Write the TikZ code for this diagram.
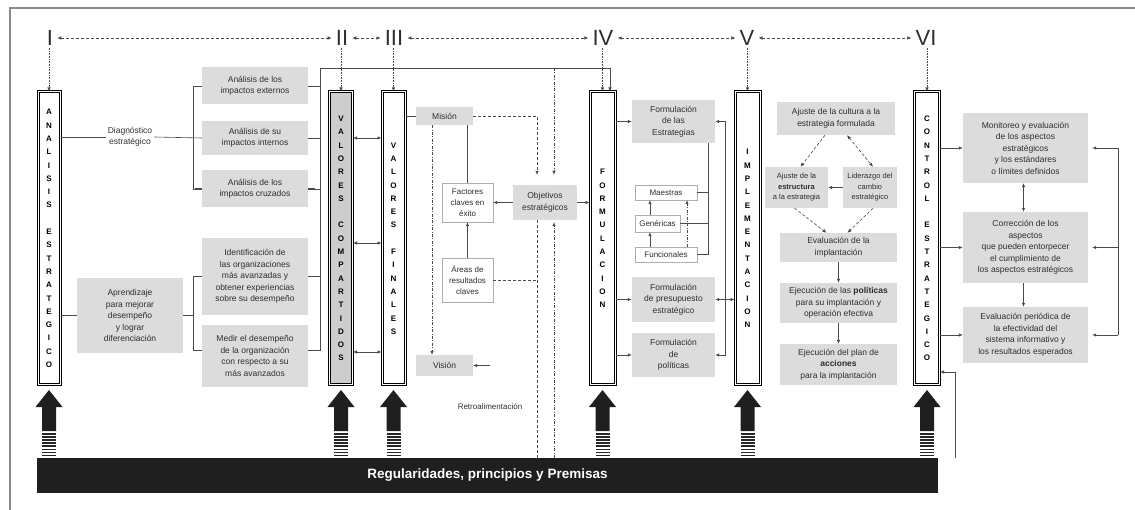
\documentclass[tikz,border=0pt]{standalone}
\usepackage{fontspec}
\setmainfont{Liberation Sans}
\usetikzlibrary{arrows.meta}
\definecolor{txt}{HTML}{2E2E2E}
\definecolor{ln}{HTML}{4A4A4A}
\definecolor{boxg}{HTML}{DCDCDC}
\definecolor{colg}{HTML}{CDCDCD}
\definecolor{frmc}{HTML}{8A8A8A}
\tikzset{
  every node/.style={text=txt},
  >={Latex[length=4pt,width=3.5pt]},
  gbox/.style={fill=boxg, align=center, inner sep=1pt, font=\fontsize{8.5}{11.5}\selectfont},
  wbox/.style={fill=white, draw=ln!45, line width=0.4pt, align=center, inner sep=1pt, font=\fontsize{8}{11}\selectfont},
  colbox/.style={draw=black, line width=1pt, double=white, double distance=1pt, align=center, inner sep=0pt, minimum height=293, text=black, font=\fontsize{8}{13.3}\selectfont\bfseries},
  numeral/.style={font=\fontsize{22}{22}\selectfont, inner sep=2pt},
  conn/.style={draw=ln, line width=0.6pt},
  arr/.style={conn, ->},
  darr/.style={conn, <->},
  dsh/.style={conn, dash pattern=on 3pt off 2pt},
  ddot/.style={conn, dash pattern=on 3pt off 1.5pt on 0.8pt off 1.5pt},
  dots/.style={conn, densely dotted, ->},
}
\begin{document}
\begin{tikzpicture}[x=1pt,y=-1pt]
\useasboundingbox (0,0) rectangle (1135,510);
\draw[frmc, line width=1.2pt] (10,510) -- (10,8) -- (1135,8);

% numerals
\node[numeral] (n1) at (50,38) {I};
\node[numeral] (n2) at (342,38) {II};
\node[numeral] (n3) at (394,38) {III};
\node[numeral] (n4) at (603,38) {IV};
\node[numeral] (n5) at (747,38) {V};
\node[numeral] (n6) at (926,38) {VI};
\foreach \a/\b in {n1/n2,n2/n3,n3/n4,n4/n5,n5/n6}
  \draw[dsh, <->, shorten <=2pt, shorten >=2pt] (\a.east) -- (\b.west);

% columns
\node[colbox, minimum width=22] (c1) at (49,238.5) {A\\N\\A\\L\\I\\S\\I\\S\\\mbox{}\\E\\S\\T\\R\\A\\T\\E\\G\\I\\C\\O};
\node[colbox, minimum width=23, fill=colg] (c2) at (341,238.5) {V\\A\\L\\O\\R\\E\\S\\\mbox{}\\C\\O\\M\\P\\A\\R\\T\\I\\D\\O\\S};
\node[colbox, minimum width=23] (c3) at (393.5,238.5) {V\\A\\L\\O\\R\\E\\S\\\mbox{}\\F\\I\\N\\A\\L\\E\\S};
\node[colbox, minimum width=25] (c4) at (602.5,238.5) {F\\O\\R\\M\\U\\L\\A\\C\\I\\O\\N};
\node[colbox, minimum width=25] (c5) at (747.5,238.5) {I\\M\\P\\L\\E\\M\\E\\N\\T\\A\\C\\I\\O\\N};
\node[colbox, minimum width=25] (c6) at (927,238.5) {C\\O\\N\\T\\R\\O\\L\\\mbox{}\\E\\S\\T\\R\\A\\T\\E\\G\\I\\C\\O};

\foreach \n/\c in {n1/c1,n2/c2,n3/c3,n4/c4,n5/c5,n6/c6}
  \draw[dots] (\c.north |- \n.south) -- (\c.north);

% base bar and big arrows
\node[fill=black!88, minimum width=901, minimum height=35, inner sep=0pt, text=white, font=\fontsize{13.5}{14}\selectfont\bfseries] (bar) at (487.5,475.5) {Regularidades, principios y Premisas};
\foreach \cx in {49,341,393.5,602.5,747.5,927}{
  \fill[black!88] (\cx,390) -- (\cx+13.5,407) -- (\cx+7,407) -- (\cx+7,431) -- (\cx-7,431) -- (\cx-7,407) -- (\cx-13.5,407) -- cycle;
  \foreach \k in {0,...,7}{\fill[black!85] (\cx-7,433+\k*3.1) rectangle (\cx+7,434.6+\k*3.1);}
}

% helper coordinates
\coordinate (bl) at (193,0);
\coordinate (br) at (320,0);
\coordinate (tl) at (320,68);
\coordinate (tr) at (610,68);
\coordinate (xa) at (537,0);
\coordinate (xb) at (554,0);
\coordinate (xv) at (432,0);
\coordinate (vt) at (490,365.5);
\coordinate (y1) at (0,138);
\coordinate (y2) at (0,243);
\coordinate (y3) at (0,352);
\coordinate (xg) at (650,0);
\coordinate (xh) at (687,0);
\coordinate (xbr) at (708,0);
\coordinate (xr) at (725,0);
\coordinate (xrr) at (1118,0);
\coordinate (fb) at (955,372);

% left section
\node[gbox, minimum width=106, minimum height=37] (ext) at (255,86) {Análisis de los\\impactos externos};
\node[gbox, minimum width=106, minimum height=34] (int) at (255,138) {Análisis de su\\impactos internos};
\node[gbox, minimum width=106, minimum height=37] (cru) at (255,189) {Análisis de los\\impactos cruzados};
\node[gbox, minimum width=106, minimum height=77] (iden) at (255,276.5) {Identificación de\\las organizaciones\\más avanzadas y\\obtener experiencias\\sobre su desempeño};
\node[gbox, minimum width=106, minimum height=62] (med) at (255,356) {Medir el desempeño\\de la organización\\con respecto a su\\más avanzados};
\node[gbox, minimum width=106, minimum height=75] (apr) at (130,315.5) {Aprendizaje\\para mejorar\\desempeño\\y lograr\\diferenciación};
\node[align=center, inner sep=2pt, font=\fontsize{8.5}{11.5}\selectfont] (diag) at (130,137) {Diagnóstico\\estratégico};

\draw[conn] (c1.east |- diag.west) -- (diag.west);
\draw[conn] (diag.east) -- (int.west);
\draw[conn] (ext.west) -- (ext.west -| bl) -- (cru.west -| bl) -- (cru.west);
\draw[ln, line width=1.6pt] (cru.west) -- ++(-7,0);
\draw[ln, line width=1.6pt] (cru.east) -- ++(7,0);
\draw[conn] (ext.east) -- (ext.east -| br);
\draw[conn] (int.east) -- (int.east -| br);
\draw[conn] (cru.east) -- (cru.east -| br);
\draw[conn] (iden.east) -- (iden.east -| br);
\draw[arr] ([yshift=6pt]med.east) -- ([yshift=6pt]med.east -| br) -- (tl) -- (tr) -- (tr |- c4.north);
\draw[conn] (c1.east |- apr.west) -- (apr.west);
\draw[conn] (apr.east) -- (apr.east -| bl);
\draw[conn] (iden.west) -- (iden.west -| bl) -- ([yshift=6pt]med.west -| bl) -- ([yshift=6pt]med.west);

% values
\draw[darr] (c2.east |- y1) -- (c3.west |- y1);
\draw[darr] (c2.east |- y2) -- (c3.west |- y2);
\draw[darr] (c2.east |- y3) -- (c3.west |- y3);

% mission / vision block
\node[gbox, minimum width=57, minimum height=18] (mis) at (444.5,116) {Misión};
\node[gbox, minimum width=57, minimum height=21] (vis) at (444.5,365.5) {Visión};
\node[wbox, minimum width=51, minimum height=39] (fac) at (467.5,202.5) {Factores\\claves en\\éxito};
\node[wbox, minimum width=51, minimum height=44] (are) at (467.5,280) {Áreas de\\resultados\\claves};
\node[gbox, minimum width=64, minimum height=35] (obj) at (545,202.5) {Objetivos\\estratégicos};
\node[font=\fontsize{8}{10}\selectfont] (ret) at (490,407) {Retroalimentación};

\draw[conn] (c3.east |- mis.west) -- (mis.west);
\draw[conn] (fac.north) -- (fac.north |- mis.south);
\draw[arr] (are.north) -- (fac.south);
\draw[arr] (obj.west) -- (fac.east);
\draw[arr] (obj.east) -- (c4.west |- obj.east);
\draw[dsh, ->, shorten >=10pt] (mis.east) -- (mis.east -| xa) -- (obj.north -| xa);
\draw[ddot, ->, shorten >=10pt] (xb |- tl) -- (obj.north -| xb);
\draw[dsh] (obj.south -| xa) -- (bar.north -| xa);
\draw[ddot, ->, shorten >=2pt] (bar.north -| xb) -- (obj.south -| xb);
\draw[dsh] (are.east) -- (are.east -| xa);
\draw[ddot, ->] (mis.south -| xv) -- (vis.north -| xv);
\draw[arr] (vt) -- (vis.east);

% formulation block
\node[gbox, minimum width=83, minimum height=43] (fes) at (673.5,121.5) {Formulación\\de las\\Estrategias};
\node[wbox, minimum width=62, minimum height=15] (mae) at (666,192.5) {Maestras};
\node[wbox, minimum width=45, minimum height=17] (gen) at (657.5,223.5) {Genéricas};
\node[wbox, minimum width=62, minimum height=15] (fun) at (666,254.5) {Funcionales};
\node[gbox, minimum width=83, minimum height=45] (fpr) at (673.5,299.5) {Formulación\\de presupuesto\\estratégico};
\node[gbox, minimum width=83, minimum height=44] (fpo) at (673.5,355) {Formulación\\de\\políticas};

\draw[arr] (c4.east |- fes.west) -- (fes.west);
\draw[arr] (c4.east |- fpr.west) -- (fpr.west);
\draw[arr] (c4.east |- fpo.west) -- (fpo.west);
\draw[arr] (gen.north -| xg) -- (mae.south -| xg);
\draw[arr] (fun.north -| xg) -- (gen.south -| xg);
\draw[ddot, ->] (fun.north -| xh) -- (mae.south -| xh);
\draw[conn] (fes.south -| xbr) -- (fun.east -| xbr) -- (fun.east);
\draw[conn] (mae.east) -- (mae.east -| xbr);
\draw[conn] (gen.east) -- (gen.east -| xbr);
\draw[arr] (xr |- fpr.east) -- (xr |- fes.east) -- (fes.east);
\draw[arr] (xr |- fpr.east) -- (xr |- fpo.east) -- (fpo.east);
\draw[darr] (fpr.east) -- (c5.west |- fpr.east);

% implementation block
\node[gbox, minimum width=118, minimum height=33] (cul) at (836,118.5) {Ajuste de la cultura a la\\estrategia formulada};
\node[gbox, minimum width=63, minimum height=41, font=\fontsize{7.5}{10.5}\selectfont] (est) at (796.5,187.5) {Ajuste de la\\\textbf{estructura}\\a la estrategia};
\node[gbox, minimum width=54, minimum height=41, font=\fontsize{7.5}{10.5}\selectfont] (lid) at (870,187.5) {Liderazgo del\\cambio\\estratégico};
\node[gbox, minimum width=117, minimum height=29] (eva) at (838.5,247.5) {Evaluación de la\\implantación};
\node[gbox, minimum width=117, minimum height=40] (ejp) at (838.5,303) {Ejecución de las \textbf{políticas}\\para su implantación y\\operación efectiva};
\node[gbox, minimum width=117, minimum height=41] (eja) at (838.5,364.5) {Ejecución del plan de\\\textbf{acciones}\\para la implantación};

\draw[dsh, ->] ([xshift=-11pt]cul.south) -- ([xshift=4pt]est.north);
\draw[dsh, <->] ([xshift=11pt]cul.south) -- ([xshift=3pt]lid.north);
\draw[arr] (lid.west) -- (est.east);
\draw[dsh, ->] ([xshift=-2pt]est.south) -- ([xshift=-12pt]eva.north);
\draw[dsh, ->] ([xshift=3pt]lid.south) -- ([xshift=9pt]eva.north);
\draw[arr] (eva.south) -- (ejp.north);
\draw[arr] (ejp.south) -- (eja.north);

% control block
\node[gbox, minimum width=125, minimum height=70] (mon) at (1025.5,148) {Monitoreo y evaluación\\de los aspectos\\estratégicos\\y los estándares\\o límites definidos};
\node[gbox, minimum width=125, minimum height=71] (cor) at (1025.5,247.5) {Corrección de los\\aspectos\\que pueden entorpecer\\el cumplimiento de\\los aspectos estratégicos};
\node[gbox, minimum width=125, minimum height=56] (evp) at (1025.5,335) {Evaluación periódica de\\la efectividad del\\sistema informativo y\\los resultados esperados};

\draw[arr] (c6.east |- mon.west) -- (mon.west);
\draw[arr] (c6.east |- cor.west) -- (cor.west);
\draw[arr] (c6.east |- evp.west) -- (evp.west);
\draw[darr] ([xshift=-2pt]mon.south) -- ([xshift=-2pt]cor.north);
\draw[arr] ([xshift=-2pt]cor.south) -- ([xshift=-2pt]evp.north);
\draw[arr, shorten >=4pt] (xrr |- evp.east) -- (xrr |- mon.east) -- (mon.east);
\draw[arr, shorten >=4pt] (xrr |- cor.east) -- (cor.east);
\draw[arr, shorten >=4pt] (xrr |- evp.east) -- (evp.east);
\draw[arr] (fb |- bar.north) -- (fb) -- (c6.east |- fb);
\end{tikzpicture}
\end{document}
